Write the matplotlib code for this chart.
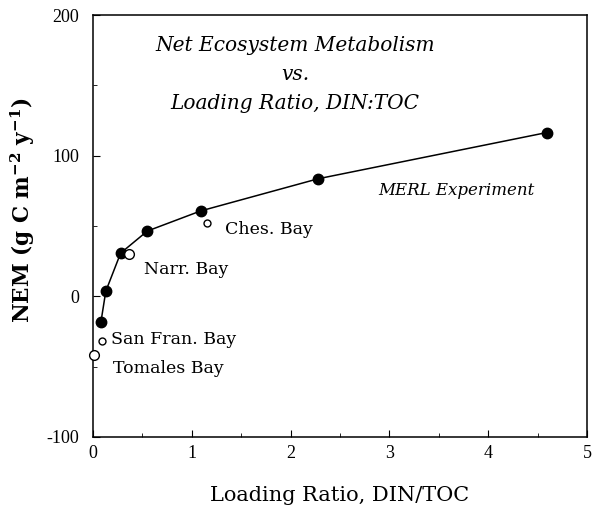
import matplotlib.pyplot as plt
from matplotlib.ticker import MultipleLocator

plt.rcParams['font.family'] = ['DejaVu Serif']
plt.rcParams['axes.unicode_minus'] = False

# MERL mesocosm experiment (filled symbols, joined by a line)
merl_ratio = [0.08, 0.13, 0.28, 0.55, 1.09, 2.28, 4.59]
merl_nem = [-18.6, 3.6, 30.7, 46.4, 60.7, 83.6, 116.4]

# Field estimates for individual bays (open symbols)
bay_names = ['Ches. Bay', 'Narr. Bay', 'San Fran. Bay', 'Tomales Bay']
bay_ratio = [1.15, 0.36, 0.09, 0.01]
bay_nem = [52.1, 30.0, -32.0, -42.0]
bay_size = [5, 7, 5, 7]
bay_label_offset = [(13, -4.3), (11.5, -10.8), (6.5, 1.4), (13.7, -9.4)]

fig = plt.figure(figsize=(5.92, 5.12), dpi=100, facecolor='white')
ax = fig.add_axes([0.157, 0.1465, 0.8346, 0.8242])

ax.plot(merl_ratio, merl_nem, '-', color='black', lw=1.1, zorder=2)
ax.plot(merl_ratio, merl_nem, 'o', color='black', ms=7.5, zorder=3)

for name, x, y, s, off in zip(bay_names, bay_ratio, bay_nem, bay_size, bay_label_offset):
    ax.plot(x, y, 'o', mfc='white', mec='black', mew=1.0, ms=s, zorder=4,
            clip_on=False)
    ax.annotate(name, (x, y), xytext=off, textcoords='offset points',
                fontsize=12.5, va='center', ha='left')

ax.text(0.409, 0.95, 'Net Ecosystem Metabolism\nvs.\nLoading Ratio, DIN:TOC',
        transform=ax.transAxes, ha='center', va='top', fontsize=14.5,
        style='italic', linespacing=1.65)
ax.text(3.68, 75, 'MERL Experiment', ha='center', va='center',
        fontsize=12, style='italic')

ax.set_xlim(0, 5)
ax.set_ylim(-100, 200)
ax.xaxis.set_major_locator(MultipleLocator(1))
ax.xaxis.set_minor_locator(MultipleLocator(0.5))
ax.yaxis.set_major_locator(MultipleLocator(100))
ax.yaxis.set_minor_locator(MultipleLocator(50))
ax.tick_params(which='both', direction='in', top=False, right=False)
ax.tick_params(axis='x', pad=6)
ax.tick_params(axis='y', pad=10)
ax.tick_params(which='major', length=5)
ax.tick_params(which='minor', length=3)
for lbl in ax.get_xticklabels() + ax.get_yticklabels():
    lbl.set_fontfamily('Liberation Serif')
    lbl.set_fontsize(13)
for sp in ax.spines.values():
    sp.set_linewidth(1.1)

ax.set_xlabel('Loading Ratio, DIN/TOC', fontsize=15)
ax.xaxis.set_label_coords(0.5, -0.115)
ax.set_ylabel(r'NEM (g C m$^{\mathregular{-2}}$ y$^{\mathregular{-1}}$)',
              fontsize=15.5, fontweight='bold')
ax.yaxis.set_label_coords(-0.113, 0.536)

fig.savefig('out.png', dpi=100)
